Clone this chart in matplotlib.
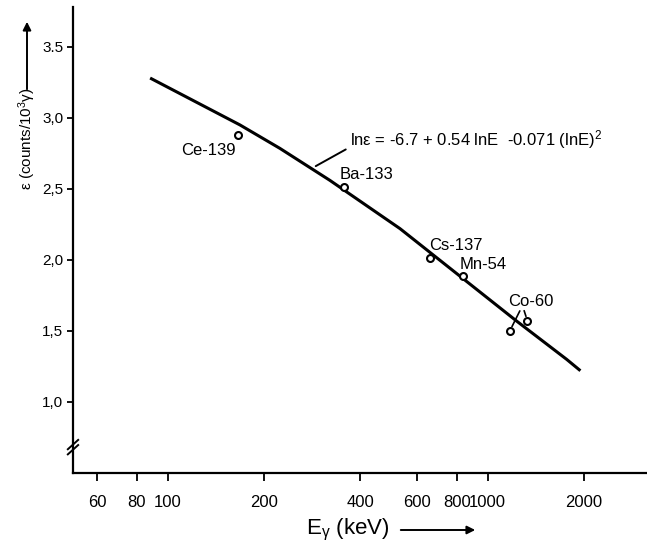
import numpy as np
import matplotlib
matplotlib.use("Agg")
from matplotlib import pyplot as plt

plt.rcParams['font.family'] = ['Liberation Sans', 'DejaVu Sans']
plt.rcParams['mathtext.fontset'] = 'custom'
plt.rcParams['mathtext.rm'] = 'Liberation Sans'
plt.rcParams['mathtext.it'] = 'Liberation Sans'

# source points (gamma energy in keV, efficiency in counts / 10^3 gamma)
sources = ['Ce-139', 'Ba-133', 'Cs-137', 'Mn-54', 'Co-60', 'Co-60']
energy = [166, 356, 662, 835, 1173, 1332]
eff = [2.88, 2.51, 2.01, 1.89, 1.50, 1.57]

# fitted curve
curve_e = [88, 168, 224, 321, 532, 1231, 1766, 1950]
curve_eff = [3.28, 2.95, 2.785, 2.56, 2.22, 1.57, 1.30, 1.22]

xticks = [60, 80, 100, 200, 400, 600, 800, 1000, 2000]
yticks = [1.0, 1.5, 2.0, 2.5, 3.0, 3.5]
ylabels = ['1,0', '1,5', '2,0', '2,5', '3,0', '3.5']

fit_text = 'lnε = -6.7 + 0.54 lnE  -0.071 (lnE)$^{2}$'
fit_anchor = (290, 2.66)

W, H = 647, 548
fig = plt.figure(figsize=(W / 100, H / 100), dpi=100)
ax = fig.add_axes([73 / W, 1 - 473 / H, 574 / W, 466 / H])

ax.plot(curve_e, curve_eff, color='black', lw=2.2, solid_capstyle='butt')
ax.plot(energy, eff, 'o', mfc='white', mec='black', ms=5, mew=1.5, zorder=3)

ax.set_xscale('log')
ax.set_xlim(50.5, 3150)
ax.set_ylim(0.5, 3.78)
ax.minorticks_off()
ax.set_xticks(xticks)
ax.set_xticklabels([str(t) for t in xticks])
ax.set_yticks(yticks)
ax.set_yticklabels(ylabels)
ax.tick_params(axis='x', direction='out', length=6, width=1.3, pad=10, labelsize=12)
ax.tick_params(axis='y', direction='out', length=4, width=1.3, pad=3, labelsize=11)

for s in ['top', 'right']:
    ax.spines[s].set_visible(False)
for s in ['left', 'bottom']:
    ax.spines[s].set_linewidth(1.6)

# axis break marks
for dy in [0.0, 0.011]:
    ax.plot([-0.009, 0.009], [0.040 + dy, 0.060 + dy], color='black', lw=1.4,
            transform=ax.transAxes, clip_on=False)

# source labels
offs = {
    0: (-1.5, -11, 'right'),
    1: (-3.4, 9.6, 'left'),
    2: (-0.7, 9.6, 'left'),
    3: (-2.0, 7.6, 'left'),
    5: (-13.7, 13.9, 'left'),
}
for i, (dx, dy, ha) in offs.items():
    ax.annotate(sources[i], (energy[i], eff[i]), xytext=(dx, dy),
                textcoords='offset points', ha=ha, va='center', fontsize=12)

# Co-60 leader lines
ax.annotate('', (energy[4], eff[4]), xytext=(7.2, 14.4), textcoords='offset points',
            arrowprops=dict(arrowstyle='-', lw=1.2, shrinkA=0, shrinkB=3.5))
ax.annotate('', (energy[5], eff[5]), xytext=(-2.4, 7.4), textcoords='offset points',
            arrowprops=dict(arrowstyle='-', lw=1.2, shrinkA=0, shrinkB=3.5))

# fit equation with leader
ax.annotate('', fit_anchor, xytext=(21.6, 12), textcoords='offset points',
            arrowprops=dict(arrowstyle='-', lw=1.4, shrinkA=0, shrinkB=0))
ax.annotate(fit_text, fit_anchor, xytext=(24.5, 19), textcoords='offset points',
            ha='left', va='center', fontsize=12)

# axis titles with arrows
fig.text(306 / W, 1 - 530 / H, 'E$_{γ}$ (keV)', ha='left', va='center', fontsize=16)
fig.add_artist(matplotlib.patches.FancyArrowPatch(
    (398 / W, 1 - 530 / H), (478 / W, 1 - 530 / H), transform=fig.transFigure,
    arrowstyle='-|>', mutation_scale=12, lw=1.4, color='black'))

fig.text(27 / W, 1 - 190 / H, 'ε (counts/10$^{3}$γ)', ha='center', va='bottom',
         rotation=90, fontsize=11)
fig.add_artist(matplotlib.patches.FancyArrowPatch(
    (27 / W, 1 - 92 / H), (27 / W, 1 - 19 / H), transform=fig.transFigure,
    arrowstyle='-|>', mutation_scale=12, lw=1.4, color='black'))

fig.savefig('out.png', dpi=100)
